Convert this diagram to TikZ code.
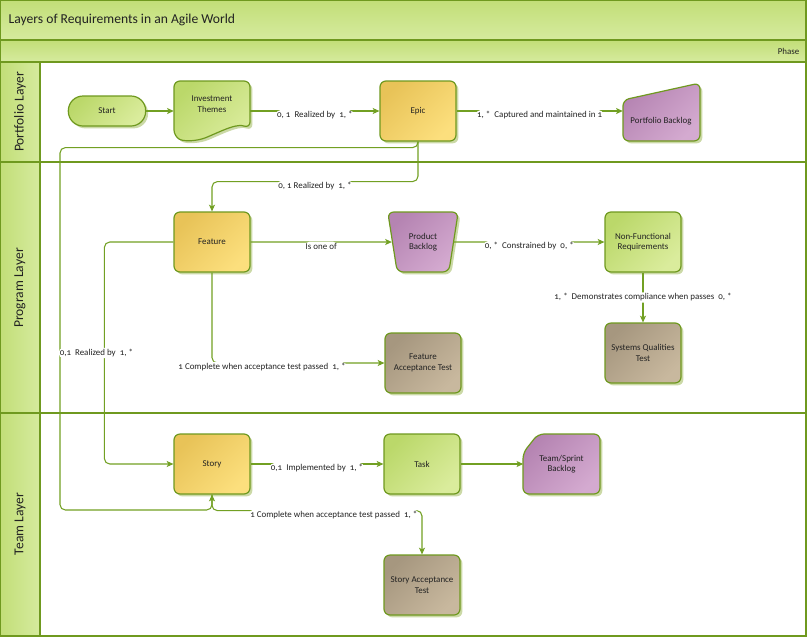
\documentclass[tikz,border=0pt]{standalone}
\usepackage{fontspec}
\setmainfont{Carlito}[Numbers=OldStyle]
\usetikzlibrary{arrows.meta,calc,positioning,shapes.geometric,shadows}

\definecolor{lanegreen}{HTML}{6F991F}
\definecolor{wiregreen}{HTML}{72A023}
\definecolor{yelA}{HTML}{E8C358}
\definecolor{yelB}{HTML}{FCDF7D}
\definecolor{grnA}{HTML}{BBD86A}
\definecolor{grnB}{HTML}{DAEC9C}
\definecolor{purA}{HTML}{B584B2}
\definecolor{purB}{HTML}{D4AAD0}
\definecolor{brnA}{HTML}{A6977F}
\definecolor{brnB}{HTML}{C8B89E}
\definecolor{bandA}{HTML}{C2DE78}
\definecolor{bandB}{HTML}{D6EB9E}
\definecolor{shadowgreen}{HTML}{CBD9A6}
\definecolor{ink}{HTML}{222222}

\newcommand{\boxfnt}{\fontsize{6.7}{8}\selectfont}
\newcommand{\titlefnt}{\fontsize{10.2}{12}\selectfont}
\newcommand{\lanefnt}{\fontsize{10.2}{12}\selectfont}

\tikzset{
  shapeline/.style = {draw=lanegreen, line width=0.9pt, rounded corners=4.5pt,
                      drop shadow={shadow xshift=1.8pt, shadow yshift=-1.8pt,
                                   fill=shadowgreen, opacity=1}},
  box/.style       = {shapeline, minimum width=57pt, minimum height=45pt, align=center,
                      font=\boxfnt, text=ink},
  txt/.style       = {minimum width=57pt, align=center, font=\boxfnt, text=ink},
  yel/.style       = {top color=yelA, bottom color=yelB, shading angle=45},
  grn/.style       = {top color=grnA, bottom color=grnB, shading angle=45},
  pur/.style       = {top color=purA, bottom color=purB, shading angle=45},
  brn/.style       = {top color=brnA, bottom color=brnB, shading angle=45},
  flow/.style      = {draw=wiregreen, line width=0.8pt, rounded corners=4pt,
                      -{Stealth[length=5pt,width=4.5pt,inset=1.2pt]}},
  lbl/.style       = {fill=white, inner sep=1pt, font=\boxfnt, text=ink},
  lblh/.style      = {lbl, yshift=-3pt},
  laneframe/.style = {draw=lanegreen, line width=1.1pt},
  lanelbl/.style   = {rotate=90, font=\lanefnt, text=ink},
}

\begin{document}
\begin{tikzpicture}[x=0.75pt,y=-0.75pt]
  \useasboundingbox (0,0) rectangle (807,637);
  \fill[white] (0,0) rectangle (807,637);

  % swimlanes
  \fill[top color=bandA, bottom color=bandB] (0,0) rectangle (806,40);
  \fill[top color=bandA, bottom color=bandB] (0,40) rectangle (806,62);
  \fill[left color=bandA, right color=bandB] (0,62) rectangle (40,636);
  \draw[laneframe] (0,0) rectangle (806,636);
  \draw[laneframe] (0,40) -- (806,40) (0,62) -- (806,62) (0,162) -- (806,162)
                   (0,413) -- (806,413) (40,62) -- (40,636);
  \node[anchor=west, font=\titlefnt, text=ink] (title) at (4,20)
       {Layers of Requirements in an Agile World};
  \node[anchor=east, font=\boxfnt, text=ink] (phase) at (804,51) {Phase};
  \node[lanelbl] (portfolio) at (20,112) {Portfolio Layer};
  \node[lanelbl] (program) at (20,288) {Program Layer};
  \node[lanelbl] (team) at (20,524) {Team Layer};

  % portfolio layer
  \node[box, grn, rounded corners=11pt, minimum width=58pt, minimum height=22.5pt]
       (start) at (107,111) {Start};
  \path[shapeline, grn] (174,81) -- (250,81) -- (250,128)
       .. controls (238,124) and (228,128) .. (212,135)
       .. controls (198,141) and (184,142) .. (174,136) -- cycle;
  \node[txt] (themes) at (212,104) {Investment\\Themes};
  \node[box, yel] (epic) at (418,111) {Epic};
  \path[shapeline, pur] (623,141) -- (623,100) -- (700,83) -- (700,141) -- cycle;
  \node[txt] (pback) at (661,121) {Portfolio Backlog};

  % program layer
  \node[box, yel] (feature) at (212,242) {Feature};
  \node[box, pur, trapezium, shape border rotate=180, trapezium angle=76,
        trapezium stretches=true, minimum width=53pt] (prodback) at (423,242) {Product\\Backlog};
  \node[box, grn] (nfr) at (643,242) {Non-Functional\\Requirements};
  \node[box, brn] (fat) at (423,363) {Feature\\Acceptance Test};
  \node[box, brn] (sqt) at (643,353) {Systems Qualities\\Test};

  % team layer
  \node[box, yel] (story) at (212,464) {Story};
  \node[box, grn] (task) at (422,464) {Task};
  \path[shapeline, pur] (523,494) -- (523,453) -- (538,434) -- (600,434) -- (600,494) -- cycle;
  \node[txt] (tsback) at (561.5,464) {Team/Sprint\\Backlog};
  \node[box, brn] (sat) at (422,585) {Story Acceptance\\Test};
  \coordinate (loopL) at (60,510);

  % connectors
  \draw[flow] (start) -- (themes.west |- start);
  \draw[flow] (themes.east |- epic) -- node[lblh] {0, 1\ \ Realized by\ \ 1, *} (epic);
  \draw[flow] (epic) -- node[lblh] {1, *\ \ Captured and maintained in 1} (pback.west |- epic);
  \draw[flow] (epic.south) -- ++(0,40) -| node[lblh, pos=0.25] {0, 1 Realized by\ \ 1, *} (feature);
  \draw[flow] (epic.south) -- ++(0,6) -| (loopL) -| (story);
  \draw[flow] (feature) -- node[lblh] {Is one of} (prodback);
  \draw[flow] (prodback) -- node[lblh] {0, *\ \ Constrained by\ \ 0, *} (nfr);
  \draw[flow] (nfr) -- node[lbl] {1, *\ \ Demonstrates compliance when passes\ \ 0, *} (sqt);
  \draw[flow] (feature) |- node[lblh, pos=0.645] {1\ Complete when acceptance test passed\ \ 1, *} (fat);
  \draw[flow] (feature.west) -- ++(-69,0) |- node[lbl, pos=0.25, xshift=-6pt] {0,1\ \ Realized by\ \ 1, *} (story);
  \draw[flow] (story) -- node[lblh] {0,1\ \ Implemented by\ \ 1, *} (task);
  \draw[flow] (task) -- (tsback.west |- task);
  \draw[flow] (story.south) -- ++(0,16) -| node[lblh, pos=0.29] {1\ Complete when acceptance test passed\ \ 1, *} (sat);
\end{tikzpicture}
\end{document}
